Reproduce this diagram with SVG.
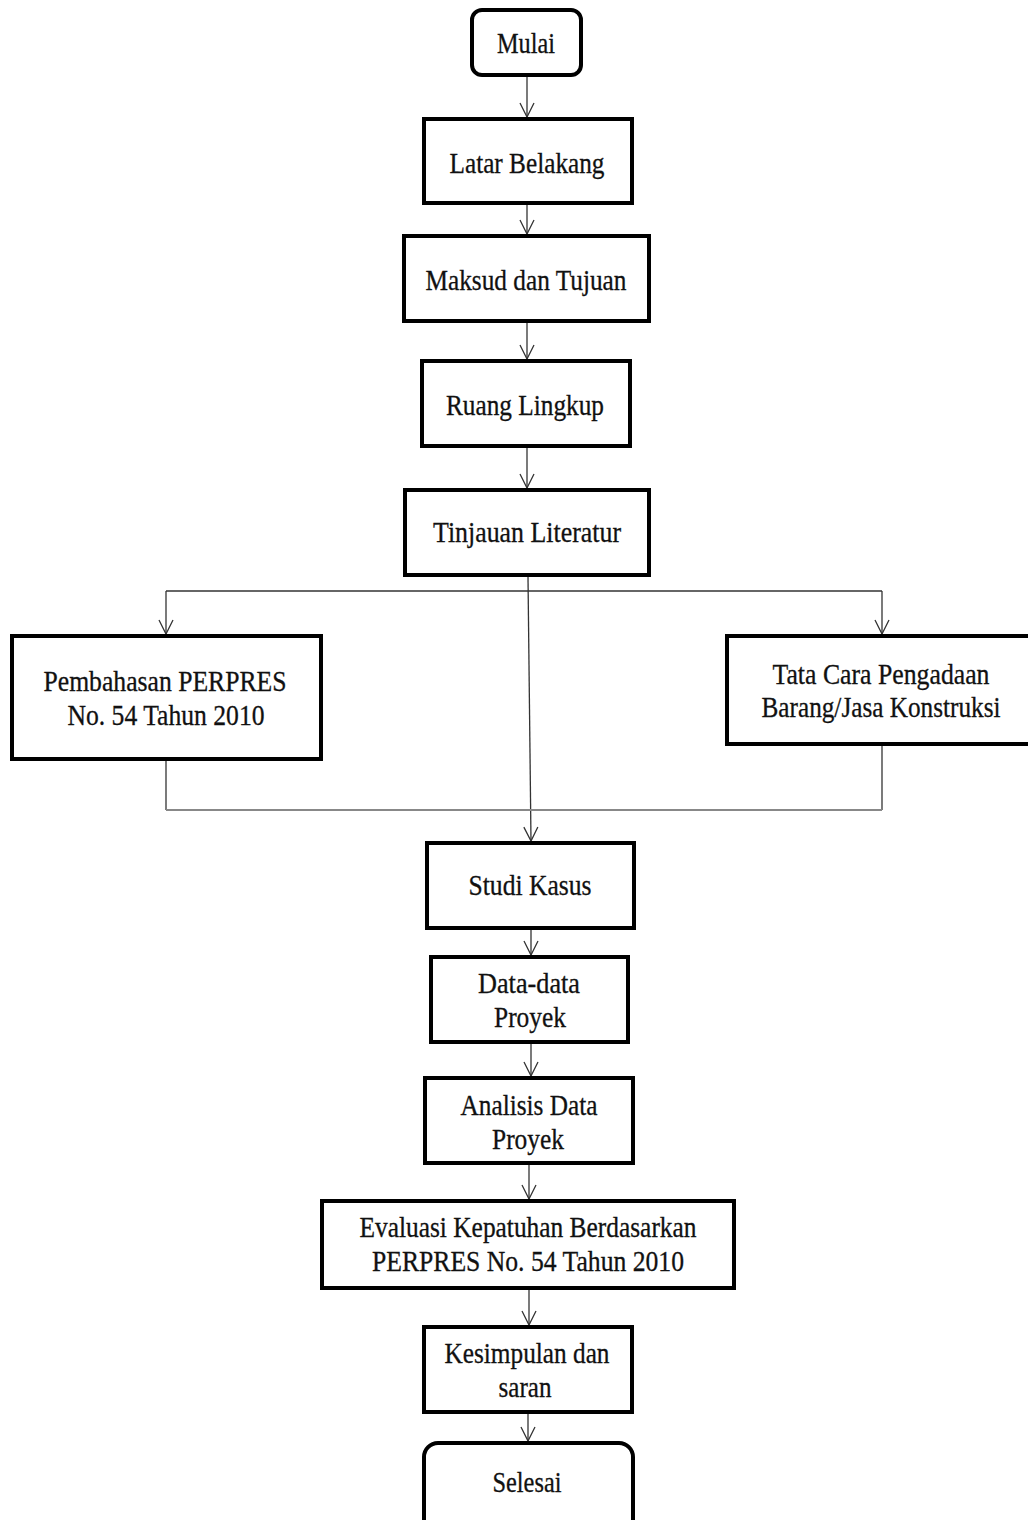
<svg xmlns="http://www.w3.org/2000/svg" width="1028" height="1520" viewBox="0 0 1028 1520">
<style>
.box{fill:#fff;stroke:#000;stroke-width:4}
.t{font-size:29px;fill:#111;text-anchor:middle;stroke:#111;stroke-width:0.3}
.c{fill:none;stroke:#333;stroke-width:1.3}
.g{fill:none;stroke:#888;stroke-width:2.2}
</style>
<defs>
<marker id="a" markerWidth="16" markerHeight="16" refX="15" refY="8" orient="auto" markerUnits="userSpaceOnUse" viewBox="0 0 16 16">
<path d="M1,1 L15,8 L1,15" fill="none" stroke="#333" stroke-width="1.3"/>
</marker>
</defs>
<rect width="1028" height="1520" fill="#fff"/>
<g id="connectors">
<line class="c" x1="527" y1="77" x2="527" y2="117" marker-end="url(#a)"/>
<line class="c" x1="527" y1="205" x2="527" y2="234" marker-end="url(#a)"/>
<line class="c" x1="527" y1="323" x2="527" y2="359" marker-end="url(#a)"/>
<line class="c" x1="527" y1="448" x2="527" y2="488" marker-end="url(#a)"/>
<line class="c" x1="528" y1="577" x2="531" y2="841" marker-end="url(#a)"/>
<line class="c" x1="166" y1="591" x2="882" y2="591"/>
<line class="c" x1="166" y1="591" x2="166" y2="634" marker-end="url(#a)"/>
<line class="c" x1="882" y1="591" x2="882" y2="634" marker-end="url(#a)"/>
<polyline class="c" points="166,761 166,810"/>
<polyline class="c" points="882,746 882,810"/>
<line class="g" x1="166" y1="810" x2="882" y2="810"/>
<line class="c" x1="531" y1="930" x2="531" y2="955" marker-end="url(#a)"/>
<line class="c" x1="531" y1="1044" x2="531" y2="1076" marker-end="url(#a)"/>
<line class="c" x1="529" y1="1165" x2="529" y2="1199" marker-end="url(#a)"/>
<line class="c" x1="529" y1="1290" x2="529" y2="1325" marker-end="url(#a)"/>
<line class="c" x1="528" y1="1414" x2="528" y2="1441" marker-end="url(#a)"/>
</g>
<g font-family="Liberation Serif, Times New Roman, serif">
<g id="mulai"><rect class="box" x="472" y="10" width="109" height="65" rx="10"/><text class="t" x="526" y="53" textLength="58" lengthAdjust="spacingAndGlyphs">Mulai</text></g>
<g id="latar"><rect class="box" x="424" y="119" width="208" height="84"/><text class="t" x="527" y="173" textLength="155" lengthAdjust="spacingAndGlyphs">Latar Belakang</text></g>
<g id="maksud"><rect class="box" x="404" y="236" width="245" height="85"/><text class="t" x="526" y="290" textLength="201" lengthAdjust="spacingAndGlyphs">Maksud dan Tujuan</text></g>
<g id="ruang"><rect class="box" x="422" y="361" width="208" height="85"/><text class="t" x="525" y="415" textLength="158" lengthAdjust="spacingAndGlyphs">Ruang Lingkup</text></g>
<g id="tinjauan"><rect class="box" x="405" y="490" width="244" height="85"/><text class="t" x="527" y="542" textLength="188" lengthAdjust="spacingAndGlyphs">Tinjauan Literatur</text></g>
<g id="pembahasan"><rect class="box" x="12" y="636" width="309" height="123"/><text class="t" x="165" y="691" textLength="243" lengthAdjust="spacingAndGlyphs">Pembahasan PERPRES</text><text class="t" x="166" y="725" textLength="197" lengthAdjust="spacingAndGlyphs">No. 54 Tahun 2010</text></g>
<g id="tatacara"><rect class="box" x="727" y="636" width="305" height="108"/><text class="t" x="881" y="684" textLength="217" lengthAdjust="spacingAndGlyphs">Tata Cara Pengadaan</text><text class="t" x="881" y="717" textLength="239" lengthAdjust="spacingAndGlyphs">Barang/Jasa Konstruksi</text></g>
<g id="studi"><rect class="box" x="427" y="843" width="207" height="85"/><text class="t" x="530" y="895" textLength="123" lengthAdjust="spacingAndGlyphs">Studi Kasus</text></g>
<g id="data"><rect class="box" x="431" y="957" width="197" height="85"/><text class="t" x="529" y="993" textLength="102" lengthAdjust="spacingAndGlyphs">Data-data</text><text class="t" x="530" y="1027" textLength="72" lengthAdjust="spacingAndGlyphs">Proyek</text></g>
<g id="analisis"><rect class="box" x="425" y="1078" width="208" height="85"/><text class="t" x="529" y="1115" textLength="137" lengthAdjust="spacingAndGlyphs">Analisis Data</text><text class="t" x="528" y="1149" textLength="72" lengthAdjust="spacingAndGlyphs">Proyek</text></g>
<g id="evaluasi"><rect class="box" x="322" y="1201" width="412" height="87"/><text class="t" x="528" y="1237" textLength="337" lengthAdjust="spacingAndGlyphs">Evaluasi Kepatuhan Berdasarkan</text><text class="t" x="528" y="1271" textLength="312" lengthAdjust="spacingAndGlyphs">PERPRES No. 54 Tahun 2010</text></g>
<g id="kesimpulan"><rect class="box" x="424" y="1327" width="208" height="85"/><text class="t" x="527" y="1363" textLength="165" lengthAdjust="spacingAndGlyphs">Kesimpulan dan</text><text class="t" x="525" y="1397" textLength="53" lengthAdjust="spacingAndGlyphs">saran</text></g>
<g id="selesai"><rect class="box" x="424" y="1443" width="209" height="100" rx="14"/><text class="t" x="527" y="1492" textLength="69" lengthAdjust="spacingAndGlyphs">Selesai</text></g>
</g>
</svg>
